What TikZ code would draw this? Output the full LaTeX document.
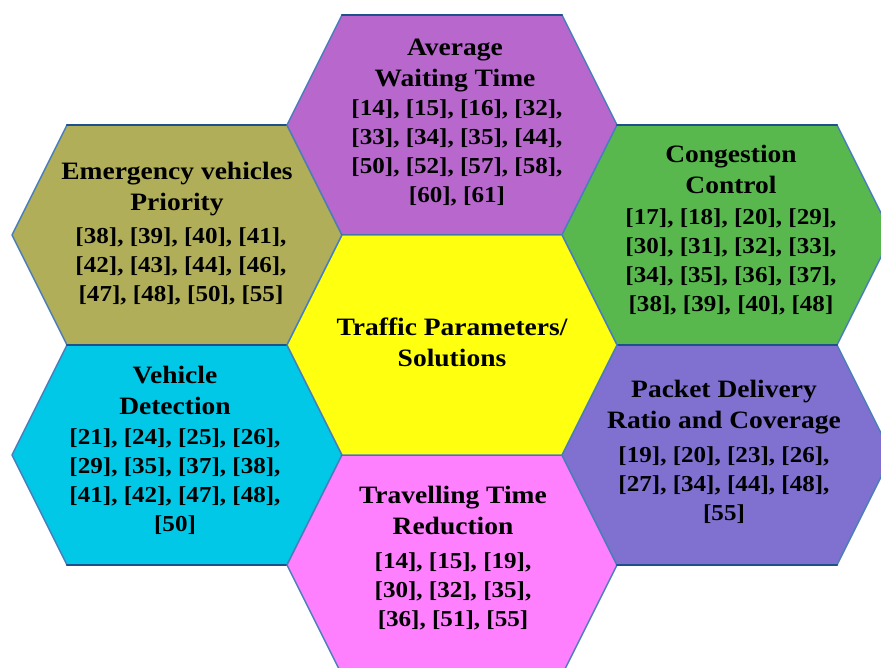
\documentclass[tikz,border=0pt]{standalone}
\usepackage{fontspec}
\setmainfont{Liberation Serif}[FakeStretch=1.1]
\usetikzlibrary{positioning}
\definecolor{hexolive}{RGB}{176,174,88}
\definecolor{hexpurple}{RGB}{184,104,204}
\definecolor{hexgreen}{RGB}{88,184,78}
\definecolor{hexyellow}{RGB}{255,255,16}
\definecolor{hexcyan}{RGB}{0,200,230}
\definecolor{hexviolet}{RGB}{128,112,208}
\definecolor{hexpink}{RGB}{255,128,255}
\definecolor{hexline}{RGB}{74,126,187}
\definecolor{hexrim}{RGB}{30,80,140}
\tikzset{
  hexagon/.style={draw=hexline, line width=1.4pt, line join=round},
  rim/.style={draw=hexrim, line width=2.2pt},
  title/.style={font=\bfseries\fontsize{25}{31}\selectfont, align=center, inner sep=0pt},
  refs/.style={font=\bfseries\fontsize{22.8}{29}\selectfont, align=center, inner sep=0pt}
}
\begin{document}
\begin{tikzpicture}[x=1pt, y=-1pt, line cap=round]
  \useasboundingbox (0,0) rectangle (881,668);
  \clip (0,0) rectangle (881,668);
  \def\w{165} \def\t{110} \def\h{110}
  % outer hexagons
  \foreach \cx/\cy/\col in {177/235/hexolive, 177/455/hexcyan, 452/125/hexpurple,
      452/565/hexpink, 727/235/hexgreen, 727/455/hexviolet}{
    \draw[hexagon, fill=\col] (\cx-\w,\cy) -- (\cx-\t,\cy-\h) -- (\cx+\t,\cy-\h)
      -- (\cx+\w,\cy) -- (\cx+\t,\cy+\h) -- (\cx-\t,\cy+\h) -- cycle;
    \draw[rim] (\cx-\t,\cy-\h) -- (\cx+\t,\cy-\h);
    \draw[rim] (\cx-\t,\cy+\h) -- (\cx+\t,\cy+\h);
  }
  % centre hexagon
  \draw[hexagon, fill=hexyellow] (452-\w,345) -- (452-\t,345-\h) -- (452+\t,345-\h)
    -- (452+\w,345) -- (452+\t,345+\h) -- (452-\t,345+\h) -- cycle;
  % texts
  \node[title] (tps) at (452,342) {Traffic Parameters/\\Solutions};
  \node[title] (awt) at (455,66) {Average\\Waiting Time};
  \node[refs] (awt-ref) at (457,153) {{[14], [15], [16], [32],}\\{[33], [34], [35], [44],}\\{[50], [52], [57], [58],}\\{[60], [61]}};
  \node[title] (evp) at (177,189) {Emergency vehicles\\Priority};
  \node[refs] (evp-ref) at (181,266) {{[38], [39], [40], [41],}\\{[42], [43], [44], [46],}\\{[47], [48], [50], [55]}};
  \node[title] (cc) at (731,169) {Congestion\\Control};
  \node[refs] (cc-ref) at (731,262) {{[17], [18], [20], [29],}\\{[30], [31], [32], [33],}\\{[34], [35], [36], [37],}\\{[38], [39], [40], [48]}};
  \node[title] (vd) at (175,390) {Vehicle\\Detection};
  \node[refs] (vd-ref) at (175,482) {{[21], [24], [25], [26],}\\{[29], [35], [37], [38],}\\{[41], [42], [47], [48],}\\{[50]}};
  \node[title] (pdr) at (724,407) {Packet Delivery\\Ratio and Coverage};
  \node[refs] (pdr-ref) at (724,485) {{[19], [20], [23], [26],}\\{[27], [34], [44], [48],}\\{[55]}};
  \node[title] (ttr) at (453,510) {Travelling Time\\Reduction};
  \node[refs] (ttr-ref) at (453,591) {{[14], [15], [19],}\\{[30], [32], [35],}\\{[36], [51], [55]}};
\end{tikzpicture}
\end{document}
